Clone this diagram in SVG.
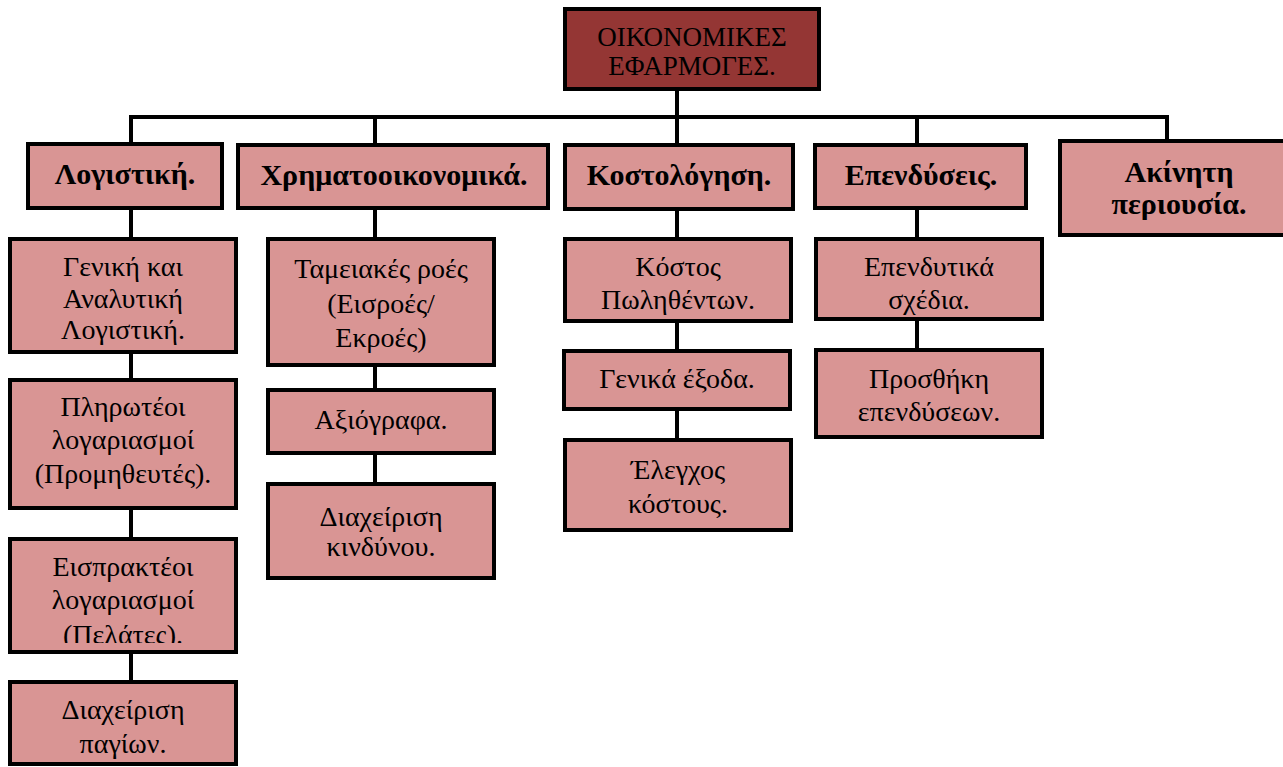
<svg xmlns="http://www.w3.org/2000/svg" width="1283" height="767" viewBox="0 0 1283 767">
<style>
.box{fill:#D99594;stroke:#000;stroke-width:4}
.top{fill:#943634;stroke:#000;stroke-width:4}
text{font-family:"Liberation Serif","Times New Roman",serif;fill:#000;text-anchor:middle}
.t{font-size:28px}
.h{font-size:30px;font-weight:bold}
.r{font-size:27px}
#conn line{stroke:#000;stroke-width:4}
</style>
<defs>
<clipPath id="clipE"><rect x="10" y="539" width="226" height="104"/></clipPath>
</defs>
<rect width="1283" height="767" fill="#fff"/>
<g id="conn">
<line x1="677" y1="91" x2="677" y2="143"/>
<line x1="129" y1="117" x2="1169" y2="117"/>
<line x1="131" y1="117" x2="131" y2="142"/>
<line x1="375" y1="117" x2="375" y2="143"/>
<line x1="917" y1="117" x2="917" y2="143"/>
<line x1="1167" y1="115" x2="1167" y2="139"/>
<line x1="131" y1="210" x2="131" y2="237"/>
<line x1="131" y1="354" x2="131" y2="378"/>
<line x1="131" y1="510" x2="131" y2="537"/>
<line x1="131" y1="654" x2="131" y2="680"/>
<line x1="375" y1="210" x2="375" y2="238"/>
<line x1="375" y1="362" x2="375" y2="388"/>
<line x1="375" y1="455" x2="375" y2="482"/>
<line x1="677" y1="211" x2="677" y2="237"/>
<line x1="677" y1="323" x2="677" y2="349"/>
<line x1="677" y1="411" x2="677" y2="438"/>
<line x1="917" y1="210" x2="917" y2="237"/>
<line x1="917" y1="321" x2="917" y2="348"/>
</g>
<g id="root">
<rect class="top" x="565" y="9" width="254" height="80"/>
<text class="r" x="692" y="46">ΟΙΚΟΝΟΜΙΚΕΣ</text>
<text class="r" x="692" y="75">ΕΦΑΡΜΟΓΕΣ.</text>
</g>
<g id="logistiki">
<rect class="box" x="28" y="144" width="194" height="64"/>
<text class="h" x="125" y="184">Λογιστική.</text>
</g>
<g id="xrimatooikonomika">
<rect class="box" x="238" y="145" width="310" height="63"/>
<text class="h" x="394" y="185">Χρηματοοικονομικά.</text>
</g>
<g id="kostologisi">
<rect class="box" x="565" y="145" width="228" height="64"/>
<text class="h" x="679" y="185">Κοστολόγηση.</text>
</g>
<g id="ependyseis">
<rect class="box" x="815" y="145" width="211" height="63"/>
<text class="h" x="921" y="185">Επενδύσεις.</text>
</g>
<g id="akiniti">
<rect class="box" x="1060" y="141" width="250" height="94"/>
<text class="h" x="1179" y="182">Ακίνητη</text>
<text class="h" x="1179" y="214">περιουσία.</text>
</g>
<g id="geniki">
<rect class="box" x="10" y="239" width="226" height="113"/>
<text class="t" x="123" y="276">Γενική και</text>
<text class="t" x="123" y="308">Αναλυτική</text>
<text class="t" x="123" y="339">Λογιστική.</text>
</g>
<g id="plirotaioi">
<rect class="box" x="10" y="380" width="226" height="128"/>
<text class="t" x="123" y="416">Πληρωτέοι</text>
<text class="t" x="123" y="449">λογαριασμοί</text>
<text class="t" x="123" y="483">(Προμηθευτές).</text>
</g>
<g id="eispraktaioi">
<rect class="box" x="10" y="539" width="226" height="113"/>
<text class="t" x="123" y="576">Εισπρακτέοι</text>
<text class="t" x="123" y="609">λογαριασμοί</text>
<text class="t" x="123" y="644" clip-path="url(#clipE)">(Πελάτες).</text>
</g>
<g id="pagia">
<rect class="box" x="10" y="682" width="226" height="82"/>
<text class="t" x="123" y="719">Διαχείριση</text>
<text class="t" x="123" y="753">παγίων.</text>
</g>
<g id="tameiakes">
<rect class="box" x="268" y="239" width="226" height="126"/>
<text class="t" x="381" y="278">Ταμειακές ροές</text>
<text class="t" x="381" y="313">(Εισροές/</text>
<text class="t" x="381" y="347">Εκροές)</text>
</g>
<g id="axiografa">
<rect class="box" x="268" y="390" width="226" height="63"/>
<text class="t" x="381" y="429">Αξιόγραφα.</text>
</g>
<g id="kindynos">
<rect class="box" x="268" y="484" width="226" height="94"/>
<text class="t" x="381" y="526">Διαχείριση</text>
<text class="t" x="381" y="556">κινδύνου.</text>
</g>
<g id="kostos">
<rect class="box" x="565" y="239" width="226" height="82"/>
<text class="t" x="678" y="276">Κόστος</text>
<text class="t" x="678" y="309">Πωληθέντων.</text>
</g>
<g id="exoda">
<rect class="box" x="564" y="351" width="226" height="58"/>
<text class="t" x="677" y="388">Γενικά έξοδα.</text>
</g>
<g id="elegxos">
<rect class="box" x="565" y="440" width="226" height="90"/>
<text class="t" x="678" y="479">Έλεγχος</text>
<text class="t" x="678" y="513">κόστους.</text>
</g>
<g id="ependytika">
<rect class="box" x="816" y="239" width="226" height="80"/>
<text class="t" x="929" y="276">Επενδυτικά</text>
<text class="t" x="929" y="309">σχέδια.</text>
</g>
<g id="prosthiki">
<rect class="box" x="816" y="350" width="226" height="87"/>
<text class="t" x="929" y="388">Προσθήκη</text>
<text class="t" x="929" y="421">επενδύσεων.</text>
</g>
</svg>
